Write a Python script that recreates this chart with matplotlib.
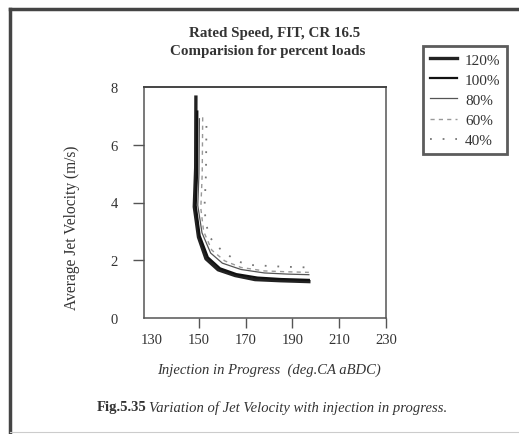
import matplotlib
matplotlib.use("Agg")
from matplotlib import pyplot as plt
from matplotlib.lines import Line2D

plt.rcParams['font.family'] = ['Liberation Serif', 'DejaVu Serif']

# injection in progress (deg.CA aBDC) and average jet velocity (m/s) per load
x_120 = [148.7, 148.6, 148.0, 149.8, 153.0, 158.2, 165.5, 174.0, 185.0, 197.0]
v_120 = [7.65, 5.20, 3.85, 2.80, 2.05, 1.67, 1.47, 1.33, 1.29, 1.26]
x_100 = [149.3, 149.2, 148.6, 150.3, 153.8, 159.0, 166.0, 175.0, 185.0, 197.0]
v_100 = [7.15, 5.00, 3.90, 2.85, 2.10, 1.72, 1.52, 1.40, 1.35, 1.32]
x_80 = [150.2, 150.0, 149.5, 151.3, 155.0, 160.0, 168.0, 178.0, 188.0, 197.0]
v_80 = [6.90, 5.00, 3.90, 2.95, 2.25, 1.90, 1.68, 1.56, 1.52, 1.50]
x_60 = [151.6, 151.4, 150.8, 152.0, 155.5, 161.0, 168.0, 178.0, 188.0, 197.0]
v_60 = [6.95, 5.00, 3.80, 3.00, 2.35, 1.98, 1.75, 1.63, 1.60, 1.58]
x_40 = [153.2, 153.0, 152.4, 152.7, 154.1, 159.1, 165.5, 171.0, 185.0, 197.0]
v_40 = [6.65, 5.00, 3.88, 3.50, 2.84, 2.39, 2.00, 1.84, 1.78, 1.75]

labels = ['120%', '100%', '80%', '60%', '40%']
xticks = [130, 150, 170, 190, 210, 230]
yticks = [0, 2, 4, 6, 8]

W, H = 519, 435
fig = plt.figure(figsize=(W / 100, H / 100), dpi=100)
ax = fig.add_axes([144 / W, 1 - 319 / H, (386 - 144) / W, (319 - 88) / H])

ax.plot(x_120, v_120, color='#222222', lw=2.4, label=labels[0])
ax.plot(x_100, v_100, color='#111111', lw=1.6, label=labels[1])
ax.plot(x_80, v_80, color='#555555', lw=0.9, label=labels[2])
ax.plot(x_60, v_60, color='#999999', lw=1.0, ls=(0, (3, 3)), label=labels[3])
ax.plot(x_40, v_40, color='#777777', lw=1.3, ls=(0, (1, 6)), label=labels[4])

ax.set_xlim(126.5, 230)
ax.set_ylim(0, 8)
ax.set_xticks(xticks)
ax.set_yticks(yticks)
ax.get_xaxis().get_major_ticks()[0].tick1line.set_visible(False)
ax.get_yaxis().get_major_ticks()[0].tick1line.set_visible(False)
ax.get_yaxis().get_major_ticks()[-1].tick1line.set_visible(False)
ax.tick_params(axis='x', length=7, width=1, color='#555555', pad=4,
               labelsize=10.5, labelcolor='#333333')
ax.tick_params(axis='y', length=8, width=1, color='#555555', pad=11,
               labelsize=10.5, labelcolor='#333333')
for s in ax.spines.values():
    s.set_color('#555555')
    s.set_linewidth(1.1)
ax.spines['top'].set_color('#444444')
ax.spines['top'].set_linewidth(1.4)

fig.text(72 / W, 1 - 228 / H, 'Average Jet Velocity (m/s)', rotation=90,
         ha='center', va='center', fontsize=11.2, color='#333333')
fig.text(269 / W, 1 - 370 / H, 'Injection in Progress  (deg.CA aBDC)',
         ha='center', va='center', fontsize=10.5, style='italic', color='#333333')

fig.text(275 / W, 1 - 33 / H, 'Rated Speed, FIT, CR 16.5', ha='center',
         va='center', fontsize=10.8, weight='bold', color='#333333')
fig.text(268 / W, 1 - 51 / H, 'Comparision for percent loads', ha='center',
         va='center', fontsize=10.8, weight='bold', color='#333333')

fig.text(97 / W, 1 - 408 / H, 'Fig.5.35', ha='left', va='center',
         fontsize=10.5, weight='bold', color='#333333')
fig.text(149 / W, 1 - 408 / H, 'Variation of Jet Velocity with injection in progress.',
         ha='left', va='center', fontsize=10.5, style='italic', color='#333333')

leg = fig.legend(loc='upper left', bbox_to_anchor=(423 / W, 1 - 47 / H),
                 fancybox=False, fontsize=11, handlelength=1.8,
                 labelspacing=0.42, borderpad=0.45, handletextpad=0.5,
                 borderaxespad=0)
leg.get_frame().set_edgecolor('#333333')
leg.get_frame().set_linewidth(2.0)
for t in leg.get_texts():
    t.set_color('#333333')

# scanned page frame
fig.add_artist(Line2D([10 / W, 1], [1 - 10 / H, 1 - 10 / H], transform=fig.transFigure,
                      color='#444444', lw=2.5))
fig.add_artist(Line2D([10 / W, 10 / W], [1 - 10 / H, 0], transform=fig.transFigure,
                      color='#444444', lw=2.5))
fig.add_artist(Line2D([10 / W, 1], [1 - 433 / H, 1 - 433 / H], transform=fig.transFigure,
                      color='#cccccc', lw=0.8))

fig.savefig('out.png', dpi=100)
